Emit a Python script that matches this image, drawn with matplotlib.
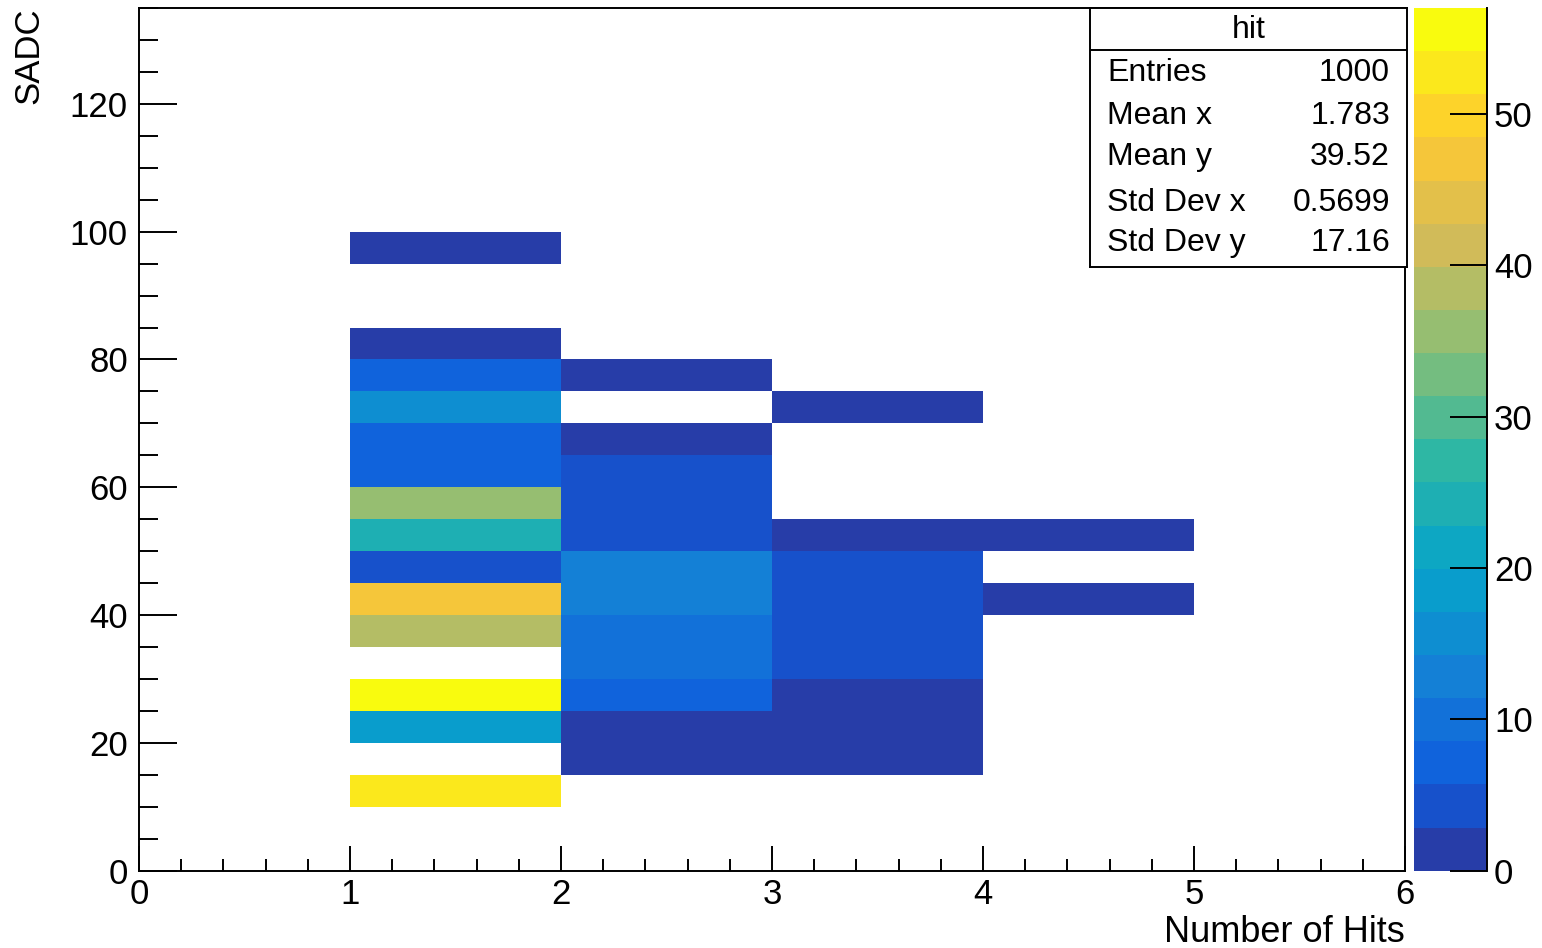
#!/usr/bin/env python3

import numpy as np
import matplotlib.pyplot as plt
from matplotlib.colors import ListedColormap, BoundaryNorm, LinearSegmentedColormap

plt.rcParams['font.family'] = ['Liberation Sans', 'DejaVu Sans']

# binning of the hit histogram
x_edges = np.arange(0, 7, 1)
y_edges = np.arange(0, 140, 5)

# filled bins: lower edge in hits, lower edge in SADC, bin content
hit_bin = [1] * 14 + [2] * 12 + [3] * 9 + [4] * 2
sadc_bin = [10, 20, 25, 35, 40, 45, 50, 55, 60, 65, 70, 75, 80, 95,
            15, 20, 25, 30, 35, 40, 45, 50, 55, 60, 65, 75,
            15, 20, 25, 30, 35, 40, 45, 50, 70,
            40, 50]
counts = [53, 18, 57, 38, 47, 4, 24, 35, 7, 8, 16, 7, 1, 1,
          2, 1, 7, 9, 10, 13, 12, 3, 5, 4, 2, 1,
          1, 2, 1, 4, 3, 5, 4, 1, 1,
          1, 1]

stats_names = ['Entries', 'Mean x', 'Mean y', 'Std Dev x', 'Std Dev y']
stats_vals = ['1000', '1.783', '39.52', '0.5699', '17.16']

# ROOT kBird palette, 20 contour levels
bird_r = [0.2082, 0.0592, 0.0780, 0.0232, 0.1802, 0.5301, 0.8186, 0.9956, 0.9764]
bird_g = [0.1664, 0.3599, 0.5041, 0.6419, 0.7178, 0.7492, 0.7328, 0.7862, 0.9832]
bird_b = [0.5293, 0.8684, 0.8385, 0.7914, 0.6425, 0.4662, 0.3499, 0.1968, 0.0539]
bird = LinearSegmentedColormap.from_list(
    'bird', list(zip(np.linspace(0, 1, 9), zip(bird_r, bird_g, bird_b))), N=255)
ndiv = 20
zmax = max(counts)
cmap = ListedColormap([bird(min(int((i + 0.99) * 255 / ndiv), 254) / 254)
                       for i in range(ndiv)])
norm = BoundaryNorm(np.linspace(0, zmax, ndiv + 1), ndiv)

grid = np.zeros((len(y_edges) - 1, len(x_edges) - 1))
for hx, sy, c in zip(hit_bin, sadc_bin, counts):
    grid[sy // 5, hx] = c
grid = np.ma.masked_equal(grid, 0)

fig = plt.figure(figsize=(15.42, 9.48), dpi=100)
ax = fig.add_axes([139 / 1542, 1 - 870.7 / 948, (1405 - 139) / 1542, (870.7 - 8) / 948])
cax = fig.add_axes([1414 / 1542, 1 - 870.7 / 948, (1487 - 1414) / 1542, (870.7 - 8) / 948])

mesh = ax.pcolormesh(x_edges, y_edges, grid, cmap=cmap, norm=norm)
ax.set_xlim(0, 6)
ax.set_ylim(0, 135)

ax.set_xticks(np.arange(0, 7, 1))
ax.set_xticks(np.arange(0, 6.01, 0.2), minor=True)
ax.set_yticks(np.arange(0, 121, 20))
ax.set_yticks(np.arange(0, 136, 5), minor=True)
ax.tick_params(axis='both', which='both', direction='in', width=1.4,
               labelsize=25, top=False, right=False)
ax.tick_params(axis='x', which='major', length=18, pad=5)
ax.tick_params(axis='x', which='minor', length=9)
ax.tick_params(axis='y', which='major', length=27, pad=8)
ax.tick_params(axis='y', which='minor', length=14)
for s in ax.spines.values():
    s.set_linewidth(1.4)

fig.text(29 / 1542, 1 - 7 / 948, 'SADC', rotation=90, ha='center', va='top', fontsize=25)
fig.text(1405 / 1542, 1 - 942 / 948, 'Number of Hits', ha='right', va='baseline', fontsize=26)

# palette
cb = fig.colorbar(mesh, cax=cax, ticks=np.arange(0, 51, 10))
cb.outline.set_visible(False)
cax.spines['right'].set_visible(True)
cax.spines['right'].set_linewidth(1.4)
cax.yaxis.set_ticks_position('right')
cax.tick_params(axis='y', which='major', direction='in', length=27, width=1.4,
                labelsize=25, pad=5)
cax.minorticks_off()

# stats box
bx0, bx1, by0, by1, bsep = 1090, 1407, 8, 267, 50
stat = fig.add_axes([bx0 / 1542, 1 - by1 / 948, (bx1 - bx0) / 1542, (by1 - by0) / 948])
stat.set_xlim(bx0, bx1)
stat.set_ylim(by1, by0)
stat.set_xticks([])
stat.set_yticks([])
for s in stat.spines.values():
    s.set_linewidth(1.4)
stat.axhline(bsep, color='black', lw=1.4)
stat.text((bx0 + bx1) / 2, 30, 'hit', ha='center', va='center', fontsize=23)
row_y = [73, 116, 157, 203, 243]
for name, val, yy in zip(stats_names, stats_vals, row_y):
    stat.text(1107, yy, name, ha='left', va='center', fontsize=23)
    stat.text(1390, yy, val, ha='right', va='center', fontsize=23)

fig.savefig('out.png', dpi=100)
